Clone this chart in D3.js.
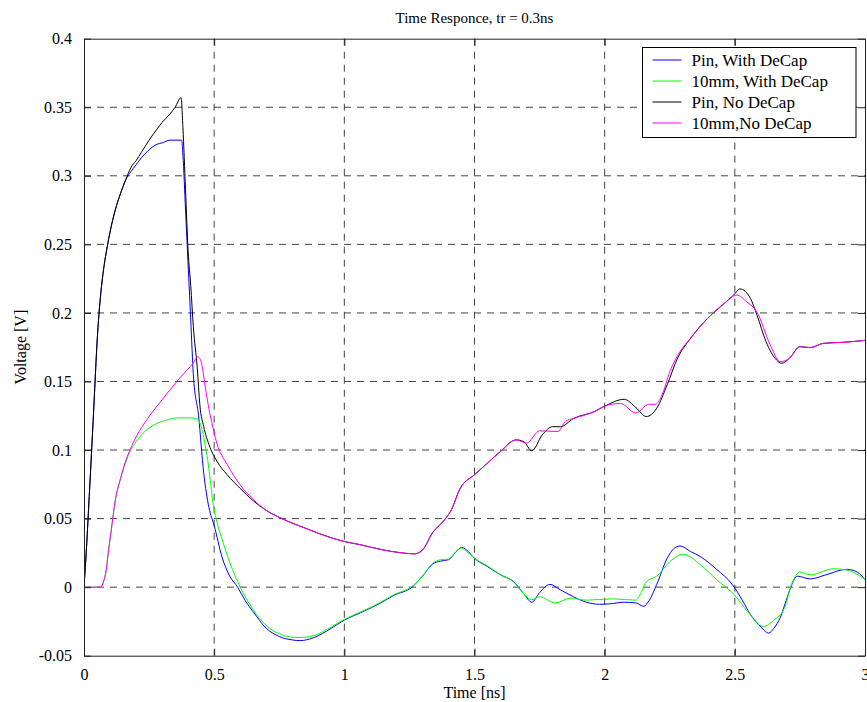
<!DOCTYPE html>
<html>
<head>
<meta charset="utf-8">
<script src="https://cdn.jsdelivr.net/npm/d3@7"></script>
<style>
  body { margin: 0; background: #fff; }
  text { font-family: "Liberation Serif", "Times New Roman", serif; fill: #000; }
</style>
</head>
<body>
<div id="chart"></div>
<script>
// series: Pin, With DeCap (blue)
const pinDecapT = [0, 0.01, 0.02, 0.03, 0.04, 0.05, 0.06, 0.07, 0.08, 0.09, 0.10, 0.12, 0.14, 0.16, 0.18, 0.20, 0.22, 0.25, 0.28, 0.30, 0.33, 0.35, 0.375, 0.38, 0.39, 0.40, 0.41, 0.42, 0.44, 0.46, 0.48, 0.50, 0.53, 0.56, 0.59, 0.62, 0.65, 0.70, 0.75, 0.80, 0.83, 0.88, 0.95, 1.00, 1.07, 1.14, 1.19, 1.26, 1.30, 1.34, 1.37, 1.40, 1.43, 1.45, 1.47, 1.50, 1.55, 1.60, 1.65, 1.69, 1.72, 1.75, 1.79, 1.83, 1.88, 1.93, 1.98, 2.03, 2.07, 2.12, 2.15, 2.17, 2.20, 2.24, 2.265, 2.29, 2.33, 2.37, 2.43, 2.49, 2.53, 2.56, 2.60, 2.63, 2.65, 2.675, 2.70, 2.715, 2.74, 2.79, 2.85, 2.93, 2.97, 3.0];
const pinDecapV = [0, 0.03, 0.066, 0.102, 0.14, 0.178, 0.205, 0.224, 0.238, 0.249, 0.259, 0.275, 0.287, 0.297, 0.303, 0.308, 0.313, 0.319, 0.323, 0.324, 0.326, 0.326, 0.326, 0.315, 0.275, 0.235, 0.195, 0.155, 0.125, 0.083, 0.058, 0.045, 0.022, 0.008, 0.0, -0.01, -0.018, -0.030, -0.036, -0.0385, -0.039, -0.037, -0.030, -0.024, -0.018, -0.0115, -0.006, 0.0, 0.008, 0.017, 0.019, 0.020, 0.026, 0.029, 0.027, 0.021, 0.015, 0.009, 0.004, -0.005, -0.011, -0.004, 0.002, -0.002, -0.007, -0.011, -0.0125, -0.012, -0.011, -0.0115, -0.014, -0.010, 0.002, 0.021, 0.028, 0.030, 0.026, 0.022, 0.013, 0.002, -0.010, -0.020, -0.029, -0.0335, -0.030, -0.022, -0.008, 0.0, 0.008, 0.006, 0.009, 0.013, 0.011, 0.0055];

// series: 10mm, With DeCap (green)
const mmDecapT = [0, 0.064, 0.075, 0.085, 0.095, 0.105, 0.12, 0.14, 0.16, 0.18, 0.20, 0.22, 0.25, 0.28, 0.31, 0.34, 0.37, 0.40, 0.43, 0.445, 0.455, 0.465, 0.475, 0.485, 0.495, 0.51, 0.53, 0.56, 0.60, 0.65, 0.70, 0.75, 0.80, 0.83, 0.88, 0.95, 1.00, 1.07, 1.14, 1.19, 1.26, 1.30, 1.34, 1.37, 1.40, 1.43, 1.45, 1.47, 1.50, 1.55, 1.60, 1.65, 1.69, 1.72, 1.75, 1.81, 1.87, 1.93, 2.03, 2.12, 2.14, 2.16, 2.20, 2.25, 2.30, 2.37, 2.43, 2.50, 2.55, 2.61, 2.65, 2.69, 2.72, 2.75, 2.79, 2.88, 2.93, 3.0];
const mmDecapV = [0, 0, 0.004, 0.012, 0.028, 0.042, 0.063, 0.079, 0.091, 0.100, 0.106, 0.111, 0.116, 0.1195, 0.1215, 0.123, 0.1235, 0.1235, 0.123, 0.120, 0.1135, 0.104, 0.093, 0.078, 0.062, 0.048, 0.035, 0.018, 0.0, -0.0165, -0.028, -0.034, -0.0365, -0.0367, -0.0355, -0.029, -0.0235, -0.0175, -0.011, -0.0055, 0.0005, 0.008, 0.0175, 0.020, 0.0205, 0.026, 0.0285, 0.026, 0.021, 0.0155, 0.009, 0.004, -0.005, -0.0092, -0.007, -0.0115, -0.008, -0.0095, -0.0085, -0.0095, -0.004, 0.004, 0.008, 0.0185, 0.024, 0.016, 0.0055, -0.006, -0.018, -0.0287, -0.024, -0.0155, 0.003, 0.011, 0.009, 0.0134, 0.0125, 0.0055];

// series: Pin, No DeCap (black)
const pinNoDecapT = [0, 0.01, 0.02, 0.03, 0.04, 0.05, 0.06, 0.07, 0.08, 0.09, 0.10, 0.12, 0.14, 0.16, 0.18, 0.20, 0.22, 0.25, 0.28, 0.30, 0.33, 0.35, 0.373, 0.38, 0.39, 0.40, 0.41, 0.42, 0.435, 0.445, 0.46, 0.48, 0.51, 0.55, 0.60, 0.65, 0.70, 0.76, 0.85, 0.95, 1.00, 1.06, 1.14, 1.22, 1.27, 1.30, 1.34, 1.38, 1.41, 1.445, 1.50, 1.55, 1.60, 1.66, 1.69, 1.72, 1.76, 1.80, 1.83, 1.88, 1.96, 2.00, 2.075, 2.12, 2.16, 2.20, 2.24, 2.28, 2.33, 2.39, 2.46, 2.495, 2.52, 2.56, 2.585, 2.62, 2.66, 2.68, 2.71, 2.75, 2.79, 2.84, 2.92, 3.0];
const pinNoDecapV = [0, 0.03, 0.066, 0.102, 0.14, 0.178, 0.205, 0.224, 0.238, 0.249, 0.259, 0.275, 0.287, 0.297, 0.306, 0.311, 0.317, 0.326, 0.334, 0.339, 0.345, 0.350, 0.357, 0.335, 0.29, 0.245, 0.22, 0.19, 0.16, 0.133, 0.117, 0.104, 0.092, 0.082, 0.072, 0.063, 0.056, 0.050, 0.043, 0.036, 0.0333, 0.031, 0.0275, 0.025, 0.0243, 0.027, 0.040, 0.048, 0.056, 0.072, 0.082, 0.0905, 0.099, 0.1074, 0.106, 0.0994, 0.111, 0.117, 0.117, 0.123, 0.128, 0.132, 0.137, 0.131, 0.1244, 0.1305, 0.1475, 0.167, 0.1815, 0.195, 0.207, 0.213, 0.2175, 0.2106, 0.1985, 0.179, 0.1657, 0.1633, 0.167, 0.1754, 0.1747, 0.1778, 0.1786, 0.180];

// series: 10mm,No DeCap (magenta)
const mmNoDecapT = [0, 0.064, 0.075, 0.085, 0.095, 0.105, 0.12, 0.14, 0.16, 0.18, 0.20, 0.23, 0.26, 0.295, 0.32, 0.346, 0.37, 0.397, 0.42, 0.437, 0.447, 0.455, 0.462, 0.47, 0.48, 0.49, 0.51, 0.55, 0.60, 0.65, 0.70, 0.76, 0.85, 0.95, 1.00, 1.06, 1.14, 1.22, 1.27, 1.30, 1.34, 1.38, 1.41, 1.445, 1.50, 1.55, 1.60, 1.66, 1.70, 1.75, 1.82, 1.85, 1.88, 1.96, 2.00, 2.06, 2.12, 2.17, 2.195, 2.22, 2.25, 2.29, 2.33, 2.39, 2.46, 2.507, 2.546, 2.584, 2.636, 2.674, 2.71, 2.75, 2.79, 2.84, 2.92, 3.0];
const mmNoDecapV = [0, 0, 0.004, 0.012, 0.028, 0.042, 0.063, 0.079, 0.092, 0.1015, 0.1095, 0.119, 0.127, 0.1355, 0.1415, 0.1475, 0.153, 0.1585, 0.1635, 0.168, 0.166, 0.160, 0.151, 0.141, 0.130, 0.121, 0.105, 0.0895, 0.0745, 0.064, 0.056, 0.050, 0.043, 0.036, 0.0333, 0.031, 0.0275, 0.025, 0.0243, 0.027, 0.040, 0.048, 0.056, 0.072, 0.082, 0.0905, 0.099, 0.1074, 0.105, 0.114, 0.1135, 0.121, 0.123, 0.128, 0.132, 0.134, 0.127, 0.1334, 0.1334, 0.140, 0.157, 0.172, 0.1815, 0.195, 0.207, 0.213, 0.208, 0.2009, 0.1767, 0.1645, 0.167, 0.1754, 0.1747, 0.1778, 0.1786, 0.180];

const seriesNames = ["Pin, With DeCap", "10mm, With DeCap", "Pin, No DeCap", "10mm,No DeCap"];
const seriesColors = ["#0000ff", "#00ff00", "#000000", "#ff00ff"];
const xTicks = [0, 0.5, 1, 1.5, 2, 2.5, 3];
const xTickLabels = ["0", "0.5", "1", "1.5", "2", "2.5", "3"];
const yTicks = [-0.05, 0, 0.05, 0.1, 0.15, 0.2, 0.25, 0.3, 0.35, 0.4];
const yTickLabels = ["-0.05", "0", "0.05", "0.1", "0.15", "0.2", "0.25", "0.3", "0.35", "0.4"];

const series = [
  [pinDecapT, pinDecapV],
  [mmDecapT, mmDecapV],
  [pinNoDecapT, pinNoDecapV],
  [mmNoDecapT, mmNoDecapV]
].map(([t, v], i) => ({
  name: seriesNames[i],
  color: seriesColors[i],
  values: t.map((d, j) => ({ t: d, v: v[j] }))
}));

const W = 867, H = 702;
const margin = { top: 38.7, right: 2, bottom: 46.3, left: 84 };
const width = W - margin.left - margin.right;
const height = H - margin.top - margin.bottom;

const svg = d3.select("#chart")
  .append("svg")
  .attr("width", W)
  .attr("height", H);

const g = svg.append("g")
  .attr("transform", `translate(${margin.left}, ${margin.top})`);

const xScale = d3.scaleLinear().domain([0, 3]).range([0, width]);
const yScale = d3.scaleLinear().domain([-0.05, 0.4]).range([height, 0]);

// grid
g.append("g")
  .selectAll("line")
  .data(xTicks.slice(1, -1))
  .join("line")
  .attr("x1", d => xScale(d)).attr("x2", d => xScale(d))
  .attr("y1", 0).attr("y2", height)
  .attr("stroke", "#444")
  .attr("stroke-dasharray", "7,6");

g.append("g")
  .selectAll("line")
  .data(yTicks.slice(1, -1))
  .join("line")
  .attr("y1", d => yScale(d)).attr("y2", d => yScale(d))
  .attr("x1", 0).attr("x2", width)
  .attr("stroke", "#444")
  .attr("stroke-dasharray", "7,6");

// lines
g.append("clipPath").attr("id", "clip")
  .append("rect").attr("width", width).attr("height", height);

const line = d3.line()
  .x(d => xScale(d.t))
  .y(d => yScale(d.v))
  .curve(d3.curveMonotoneX);

g.append("g")
  .attr("clip-path", "url(#clip)")
  .selectAll("path")
  .data(series)
  .join("path")
  .attr("d", d => line(d.values))
  .attr("fill", "none")
  .attr("stroke", d => d.color)
  .attr("stroke-width", 1);

// axes (box with inward ticks on all sides)
const tickLen = 7;
const fontSize = "16px";

g.append("g")
  .attr("transform", `translate(0, ${height})`)
  .call(d3.axisBottom(xScale).tickValues(xTicks).tickFormat((d, i) => xTickLabels[i]).tickSizeInner(-tickLen).tickSizeOuter(0).tickPadding(tickLen + 6))
  .call(a => a.select(".domain").attr("stroke", "#222"))
  .call(a => a.selectAll("text").style("font-size", fontSize));

g.append("g")
  .call(d3.axisTop(xScale).tickValues(xTicks).tickFormat("").tickSizeInner(-tickLen).tickSizeOuter(0))
  .call(a => a.select(".domain").attr("stroke", "#222"));

g.append("g")
  .call(d3.axisLeft(yScale).tickValues(yTicks).tickFormat((d, i) => yTickLabels[i]).tickSizeInner(-tickLen).tickSizeOuter(0).tickPadding(tickLen + 5))
  .call(a => a.select(".domain").attr("stroke", "#222"))
  .call(a => a.selectAll("text").style("font-size", fontSize));

g.append("g")
  .attr("transform", `translate(${width}, 0)`)
  .call(d3.axisRight(yScale).tickValues(yTicks).tickFormat("").tickSizeInner(-tickLen).tickSizeOuter(0))
  .call(a => a.select(".domain").attr("stroke", "#222"));

g.selectAll(".tick line").attr("stroke", "#222");

// title and axis labels
g.append("text")
  .attr("x", width / 2)
  .attr("y", -16)
  .style("text-anchor", "middle")
  .style("font-size", "15px")
  .text("Time Responce, tr = 0.3ns");

g.append("text")
  .attr("x", width / 2)
  .attr("y", height + 42)
  .style("text-anchor", "middle")
  .style("font-size", fontSize)
  .text("Time [ns]");

g.append("text")
  .attr("transform", "rotate(-90)")
  .attr("x", -height / 2)
  .attr("y", -margin.left + 26)
  .style("text-anchor", "middle")
  .style("font-size", fontSize)
  .text("Voltage [V]");

// legend
const legend = svg.append("g").attr("transform", "translate(642.5, 47.5)");

legend.append("rect")
  .attr("width", 213.5)
  .attr("height", 90)
  .attr("fill", "#fff")
  .attr("stroke", "#000");

const rows = legend.selectAll(".row")
  .data(series)
  .join("g")
  .attr("class", "row")
  .attr("transform", (d, i) => `translate(0, ${12.5 + i * 21})`);

rows.append("line")
  .attr("x1", 10).attr("x2", 39)
  .attr("stroke", d => d.color);

rows.append("text")
  .attr("x", 49)
  .attr("dy", "0.35em")
  .style("font-size", "17px")
  .text(d => d.name);
</script>
</body>
</html>
